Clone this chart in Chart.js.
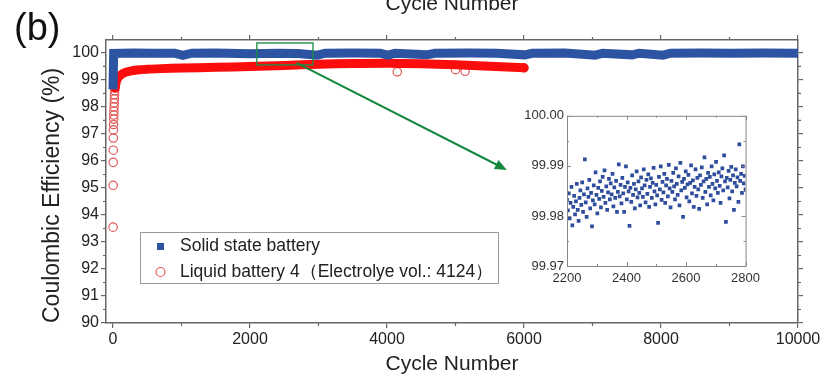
<!DOCTYPE html>
<html>
<head>
<meta charset="utf-8">
<script src="https://cdn.jsdelivr.net/npm/chart.js@4.4.1/dist/chart.umd.min.js"></script>
<style>
  html, body { margin: 0; padding: 0; background: #fff; }
  #wrap { position: relative; width: 836px; height: 382px; }
  #main { position: absolute; left: 0; top: 0; }
  #inset { position: absolute; left: 505px; top: 105px; }
</style>
</head>
<body>
<div id="wrap">
  <canvas id="main" width="836" height="382"></canvas>
  <canvas id="inset" width="260" height="191"></canvas>
</div>
<script>
Chart.defaults.font.family = "'Liberation Sans', Arial, sans-serif";
Chart.defaults.color = '#222';

// main plot ticks
const xTicks = [0, 2000, 4000, 6000, 8000, 10000];
const xMinor = [1000, 3000, 5000, 7000, 9000];
const yTicks = [90, 91, 92, 93, 94, 95, 96, 97, 98, 99, 100];
const yMinor = [90.5, 91.5, 92.5, 93.5, 94.5, 95.5, 96.5, 97.5, 98.5, 99.5];

// solid state battery (thick band of squares)
const blueCycles = [0, 10, 300, 600, 900, 1020, 1150, 1500, 2000, 2400, 2700, 2980, 3100, 3500, 3900, 4010,
  4120, 4580, 4700, 5200, 5600, 6010, 6120, 6600, 7040, 7150, 7580, 7680, 8030, 8140, 8600, 9000, 9500, 10000];
const blueValues = [98.65, 99.98, 100.0, 99.99, 99.99, 99.91, 99.99, 100.0, 99.97, 99.99, 99.98, 99.92, 99.99, 100.0, 99.99, 99.92,
  99.99, 99.93, 99.99, 100.0, 99.99, 99.93, 99.99, 100.0, 99.92, 99.99, 99.93, 99.99, 99.92, 99.99, 100.0, 99.99, 100.0, 99.99];

// liquid battery: first cycles (separate open circles)
const redEarlyCycles = [1, 2, 3, 4, 5, 6, 8, 10, 12, 14, 16, 18, 20, 23, 26, 30, 35, 40];
const redEarlyValues = [93.55, 95.1, 95.95, 96.4, 96.85, 97.15, 97.35, 97.55, 97.7, 97.85, 98.0, 98.15, 98.3, 98.45, 98.6, 98.7, 98.85, 98.95];
// liquid battery: dense band
const redCycles = [30, 50, 80, 120, 180, 250, 350, 500, 700, 1000, 1500, 2000, 2500, 3000, 3500, 4000, 4500, 5000, 5500, 6000];
const redValues = [98.7, 98.95, 99.1, 99.2, 99.28, 99.33, 99.37, 99.4, 99.42, 99.44, 99.47, 99.5, 99.54, 99.58, 99.61, 99.62, 99.6, 99.56, 99.51, 99.45];
// liquid battery: stray points and last cycle
const redOddCycles = [4150, 5000, 5140, 6000];
const redOddValues = [99.3, 99.38, 99.32, 99.45];

// inset: solid state battery, cycles 2200-2800
const insetStart = 2200, insetStep = 3;
const insetValues = [
  99.9832, 99.9811, 99.9845, 99.9795, 99.9826, 99.9858, 99.9781, 99.9818, 99.9840, 99.9803,
  99.9829, 99.9864, 99.9812, 99.9790, 99.9836, 99.9851, 99.9822, 99.9867, 99.9808, 99.9843,
  99.9913, 99.9827, 99.9798, 99.9855, 99.9838, 99.9872, 99.9815, 99.9846, 99.9779, 99.9831,
  99.9861, 99.9823, 99.9887, 99.9842, 99.9805, 99.9856, 99.9834, 99.9869, 99.9817, 99.9850,
  99.9878, 99.9838, 99.9891, 99.9826, 99.9859, 99.9812, 99.9847, 99.9874, 99.9833, 99.9865,
  99.9843, 99.9884, 99.9819, 99.9857, 99.9836, 99.9870, 99.9808, 99.9848, 99.9903, 99.9839,
  99.9862, 99.9825, 99.9876, 99.9845, 99.9808, 99.9858, 99.9899, 99.9833, 99.9867, 99.9849,
  99.9780, 99.9856, 99.9828, 99.9881, 99.9842, 99.9864, 99.9815, 99.9853, 99.9889, 99.9837,
  99.9869, 99.9846, 99.9821, 99.9877, 99.9855, 99.9838, 99.9893, 99.9861, 99.9827, 99.9872,
  99.9844, 99.9883, 99.9818, 99.9858, 99.9875, 99.9836, 99.9866, 99.9896, 99.9849, 99.9823,
  99.9862, 99.9841, 99.9786, 99.9878, 99.9853, 99.9899, 99.9832, 99.9868, 99.9847, 99.9884,
  99.9826, 99.9861, 99.9874, 99.9839, 99.9902, 99.9855, 99.9817, 99.9870, 99.9848, 99.9886,
  99.9859, 99.9833, 99.9895, 99.9864, 99.9842, 99.9879, 99.9821, 99.9906, 99.9851, 99.9868,
  99.9798, 99.9874, 99.9856, 99.9889, 99.9837, 99.9863, 99.9882, 99.9829, 99.9866, 99.9901,
  99.9845, 99.9871, 99.9818, 99.9858, 99.9893, 99.9840, 99.9876, 99.9853, 99.9814, 99.9881,
  99.9862, 99.9897, 99.9836, 99.9869, 99.9917, 99.9848, 99.9874, 99.9823, 99.9886, 99.9858,
  99.9878, 99.9841, 99.9899, 99.9864, 99.9831, 99.9883, 99.9855, 99.9908, 99.9870, 99.9846,
  99.9887, 99.9860, 99.9826, 99.9879, 99.9895, 99.9851, 99.9921, 99.9869, 99.9788, 99.9876,
  99.9857, 99.9890, 99.9835, 99.9872, 99.9898, 99.9849, 99.9881, 99.9812, 99.9866, 99.9893,
  99.9859, 99.9877, 99.9828, 99.9943, 99.9870, 99.9884, 99.9846, 99.9899, 99.9865, 99.9880, 99.9853
];
const insetXTicks = [2200, 2400, 2600, 2800];
const insetXMinor = [2300, 2500, 2700];
const insetYTicks = [99.97, 99.98, 99.99, 100.0];
const insetYMinor = [99.975, 99.985, 99.995];

// zoom box and arrow, in data units of the main plot
const zoomBox = { x0: 2100, x1: 2920, y0: 99.56, y1: 100.37 };
const arrowFrom = [2680, 99.63], arrowTo = [5750, 95.67];

const BLUE = '#2c54a3';
const RED = '#fc0d0d';
const RED_LIGHT = '#e25a5a';

const pts = (xs, ys) => xs.map((x, i) => ({ x, y: ys[i] }));

function axis(pos, min, max, ticks, size, labels) {
  return {
    type: 'linear', position: pos, min, max,
    afterBuildTicks: s => { s.ticks = ticks.map(v => ({ value: v })); },
    afterFit: s => { if (s.isHorizontal()) s.height = size; else s.width = size; },
    grid: { drawOnChartArea: false, drawTicks: true, tickLength: 5, color: '#666', lineWidth: 1.2 },
    border: { display: true, color: '#666', width: 1.5 },
    ticks: {
      display: labels, font: { size: 16 }, color: '#222', padding: 2, maxRotation: 0, autoSkip: false,
      callback: v => String(v)
    }
  };
}

// minor ticks, zoom box, arrow, legend, panel label
const decor = {
  id: 'decor',
  afterDatasetsDraw(chart) {
    const { ctx, scales: { x, y } } = chart;
    ctx.save();
    ctx.strokeStyle = 'rgba(30,140,70,0.9)';
    ctx.lineWidth = 1.5;
    const bx0 = x.getPixelForValue(zoomBox.x0), bx1 = x.getPixelForValue(zoomBox.x1);
    const by0 = y.getPixelForValue(zoomBox.y1), by1 = y.getPixelForValue(zoomBox.y0);
    ctx.strokeRect(bx0, by0, bx1 - bx0, by1 - by0);

    const ax0 = x.getPixelForValue(arrowFrom[0]), ay0 = y.getPixelForValue(arrowFrom[1]);
    const ax1 = x.getPixelForValue(arrowTo[0]), ay1 = y.getPixelForValue(arrowTo[1]);
    const ang = Math.atan2(ay1 - ay0, ax1 - ax0);
    ctx.strokeStyle = '#14883c';
    ctx.fillStyle = '#14883c';
    ctx.lineWidth = 2;
    ctx.beginPath();
    ctx.moveTo(ax0, ay0);
    ctx.lineTo(ax1 - 8 * Math.cos(ang), ay1 - 8 * Math.sin(ang));
    ctx.stroke();
    ctx.beginPath();
    ctx.moveTo(ax1, ay1);
    ctx.lineTo(ax1 - 12 * Math.cos(ang) + 5 * Math.sin(ang), ay1 - 12 * Math.sin(ang) - 5 * Math.cos(ang));
    ctx.lineTo(ax1 - 12 * Math.cos(ang) - 5 * Math.sin(ang), ay1 - 12 * Math.sin(ang) + 5 * Math.cos(ang));
    ctx.closePath();
    ctx.fill();
    ctx.restore();
  },
  afterDraw(chart) {
    const { ctx, chartArea: a, scales: { x, y } } = chart;
    ctx.save();
    // minor ticks on all four sides
    ctx.strokeStyle = '#666';
    ctx.lineWidth = 1.2;
    ctx.beginPath();
    xMinor.forEach(v => {
      const px = x.getPixelForValue(v);
      ctx.moveTo(px, a.bottom); ctx.lineTo(px, a.bottom + 3);
      ctx.moveTo(px, a.top); ctx.lineTo(px, a.top - 3);
    });
    yMinor.forEach(v => {
      const py = y.getPixelForValue(v);
      ctx.moveTo(a.left, py); ctx.lineTo(a.left - 3, py);
      ctx.moveTo(a.right, py); ctx.lineTo(a.right + 3, py);
    });
    ctx.stroke();

    // legend
    const ds = chart.data.datasets;
    ctx.fillStyle = '#fff';
    ctx.fillRect(140, 232, 358, 51);
    ctx.strokeStyle = '#999';
    ctx.lineWidth = 1;
    ctx.strokeRect(140.5, 232.5, 358, 51);
    ctx.fillStyle = ds[0].borderColor;
    ctx.fillRect(157, 243, 7, 7);
    ctx.strokeStyle = RED_LIGHT;
    ctx.lineWidth = 1.2;
    ctx.beginPath();
    ctx.arc(160.5, 272, 4.5, 0, Math.PI * 2);
    ctx.stroke();
    ctx.fillStyle = '#222';
    ctx.font = "17.5px 'Liberation Sans', Arial, sans-serif";
    ctx.textBaseline = 'middle';
    ctx.fillText(ds[0].label, 180, 246);
    ctx.fillText(ds[1].label, 180, 272);

    // panel label and the cut-off title of the panel above
    ctx.textBaseline = 'alphabetic';
    ctx.font = "38px 'Liberation Sans', Arial, sans-serif";
    ctx.fillStyle = '#111';
    ctx.fillText('(b)', 14, 40);
    ctx.font = "21px 'Liberation Sans', Arial, sans-serif";
    ctx.fillStyle = '#222';
    ctx.textAlign = 'center';
    ctx.fillText('Cycle Number', 452, 10);
    ctx.restore();
  }
};

const xMain = axis('bottom', -102, 10000, xTicks, 59, true);
xMain.title = { display: true, text: 'Cycle Number', font: { size: 21 }, color: '#222', padding: { top: 0, bottom: 5 } };
const yMain = axis('left', 90, 100.48, yTicks, 106, true);
yMain.title = { display: true, text: 'Coulombic Efficiency (%)', align: 'start', font: { size: 23 }, color: '#222', padding: { top: 39, bottom: 0 } };

new Chart(document.getElementById('main'), {
  type: 'scatter',
  data: {
    datasets: [
      {
        label: 'Solid state battery',
        data: pts(blueCycles, blueValues),
        showLine: true, borderColor: BLUE, backgroundColor: BLUE,
        borderWidth: 9, pointRadius: 0, borderJoinStyle: 'miter', tension: 0
      },
      {
        label: 'Liquid battery 4（Electrolye vol.: 4124）',
        data: pts(redCycles, redValues),
        showLine: true, borderColor: RED, backgroundColor: RED,
        borderWidth: 9, pointRadius: 0, borderCapStyle: 'round', tension: 0.3
      },
      {
        label: 'liquid markers',
        data: pts(redEarlyCycles, redEarlyValues).concat(pts(redOddCycles, redOddValues)),
        pointStyle: 'circle', pointRadius: 4.2, borderWidth: 1.2,
        borderColor: RED_LIGHT,
        backgroundColor: c => (c.raw && c.raw.x >= 6000) ? '#fff' : 'rgba(0,0,0,0)'
      }
    ]
  },
  options: {
    responsive: false, animation: false, events: [],
    layout: { padding: 0 },
    plugins: { legend: { display: false }, tooltip: { enabled: false } },
    scales: {
      x: xMain,
      y: yMain,
      x2: axis('top', -102, 10000, xTicks, 40, false),
      y2: axis('right', 90, 100.48, yTicks, 38, false)
    }
  },
  plugins: [decor]
});

// inset frame with inward ticks
const insetFrame = {
  id: 'insetFrame',
  afterDraw(chart) {
    const { ctx, chartArea: a, scales: { x, y } } = chart;
    ctx.save();
    ctx.strokeStyle = '#888';
    ctx.lineWidth = 1;
    ctx.strokeRect(a.left + 0.5, a.top + 0.5, a.right - a.left, a.bottom - a.top);
    ctx.beginPath();
    const tickX = (v, len) => {
      const px = Math.round(x.getPixelForValue(v)) + 0.5;
      ctx.moveTo(px, a.bottom); ctx.lineTo(px, a.bottom - len);
      ctx.moveTo(px, a.top); ctx.lineTo(px, a.top + len);
    };
    const tickY = (v, len) => {
      const py = Math.round(y.getPixelForValue(v)) + 0.5;
      ctx.moveTo(a.left, py); ctx.lineTo(a.left + len, py);
      ctx.moveTo(a.right, py); ctx.lineTo(a.right - len, py);
    };
    insetXTicks.forEach(v => tickX(v, 4));
    insetXMinor.forEach(v => tickX(v, 2));
    insetYTicks.forEach(v => tickY(v, 4));
    insetYMinor.forEach(v => tickY(v, 2));
    ctx.stroke();
    ctx.restore();
  }
};

new Chart(document.getElementById('inset'), {
  type: 'scatter',
  data: {
    datasets: [{
      data: insetValues.map((v, i) => ({ x: insetStart + i * insetStep, y: v })),
      pointStyle: 'rect', pointRadius: 2.6, borderWidth: 0,
      backgroundColor: '#2e4d9c'
    }]
  },
  options: {
    responsive: false, animation: false, events: [],
    layout: { padding: { top: 8, right: 17, left: 0, bottom: 0 } },
    plugins: { legend: { display: false }, tooltip: { enabled: false } },
    scales: {
      x: {
        type: 'linear', min: 2200, max: 2800,
        afterBuildTicks: s => { s.ticks = insetXTicks.map(v => ({ value: v })); },
        afterFit: s => { s.height = 30; },
        grid: { drawOnChartArea: false, drawTicks: false },
        border: { display: false },
        ticks: { font: { size: 13 }, color: '#333', padding: 5, maxRotation: 0, callback: v => String(v) }
      },
      y: {
        type: 'linear', min: 99.97, max: 100.0,
        afterBuildTicks: s => { s.ticks = insetYTicks.map(v => ({ value: v })); },
        afterFit: s => { s.width = 62; },
        grid: { drawOnChartArea: false, drawTicks: false },
        border: { display: false },
        ticks: { font: { size: 13 }, color: '#333', padding: 3, callback: v => v.toFixed(2) }
      }
    }
  },
  plugins: [insetFrame]
});
</script>
</body>
</html>
